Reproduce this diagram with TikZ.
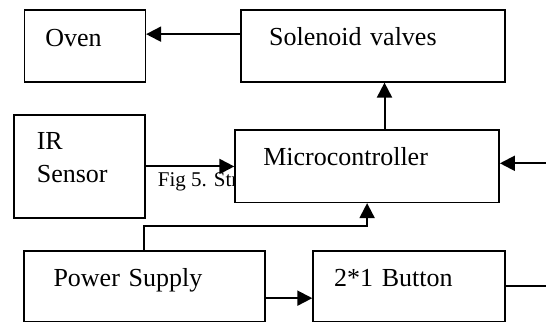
\documentclass[tikz,border=0pt]{standalone}
\usepackage{fontspec}
\setmainfont{Liberation Serif}
\usetikzlibrary{arrows.meta}
\tikzset{
  block/.style={draw=black, line width=1.6pt, fill=white, anchor=north west, align=left,
    inner ysep=0pt, font=\fontsize{26}{33.7}\selectfont},
  arr/.style={-{Triangle[length=15pt,width=15pt]}, line width=2pt},
  wire/.style={line width=2pt},
  caption/.style={anchor=base west, inner sep=0pt, font=\fontsize{21}{25}\selectfont}
}
\begin{document}
\begin{tikzpicture}[x=1pt, y=-1pt]
  \useasboundingbox (0,0) rectangle (546,322);
  \node[block, inner xsep=20.9pt, text width=79pt, text height=36.2pt, text depth=35.5pt] (oven) at (23.7,9.3) {Oven};
  \node[block, inner xsep=28.3pt, text width=207.7pt, text height=35.7pt, text depth=36pt] (sol) at (240,9.3) {Solenoid valves};
  \node[block, inner xsep=22.7pt, text width=85.3pt, text height=34.3pt, text depth=69pt] (ir) at (13.3,114) {IR\\Sensor};
  \node[caption] (fig) at (157.7,186.7) {Fig 5. Str};
  \node[block, inner xsep=28.2pt, text width=207.6pt, text height=35.2pt, text depth=37pt] (micro) at (234.3,129.3) {Microcontroller};
  \node[block, inner xsep=29.4pt, text width=181.9pt, text height=36pt, text depth=34.7pt] (pwr) at (23.3,250) {Power Supply};
  \node[block, inner xsep=21pt, text width=150pt, text height=36pt, text depth=34.7pt] (btn) at (312.3,250) {2*1 Button};
  \coordinate (rin) at (546,163.3);
  \coordinate (rout) at (546,285);
  \draw[arr] ([yshift=11.8pt]sol.west) -- ([yshift=11.8pt]oven.east);
  \draw[arr] ([xshift=17.4pt]micro.north) -- ([xshift=17.4pt]micro.north |- sol.south);
  \draw[arr] (ir.east) -- (ir.east -| micro.west);
  \draw[arr] (rin) -- (rin -| micro.east);
  \draw[arr] (pwr.north) -- ++(0,-24.5) -| (micro.south);
  \draw[arr] ([yshift=-12pt]pwr.east) -- ([yshift=-12pt]pwr.east -| btn.west);
  \draw[wire] (btn.east) -- (btn.east -| rout);
\end{tikzpicture}
\end{document}
